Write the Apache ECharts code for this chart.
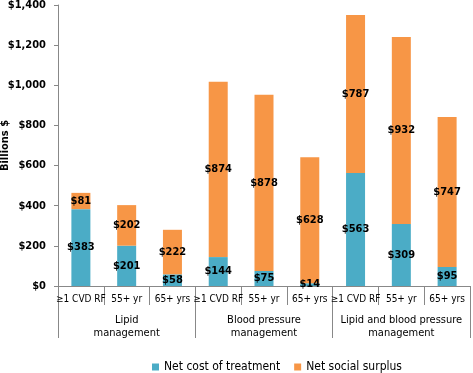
<!DOCTYPE html>
<html><head><meta charset="utf-8">
<script src="https://cdn.jsdelivr.net/npm/echarts@6/dist/echarts.min.js"></script>
<style>html,body{margin:0;padding:0;background:#fff}#c{width:473px;height:373px}</style>
</head><body><div id="c"></div>
<script>
const categories = ["≥1 CVD RF","55+ yr","65+ yrs","≥1 CVD RF","55+ yr","65+ yrs","≥1 CVD RF","55+ yr","65+ yrs"];
const groups = ["Lipid\nmanagement","Blood pressure\nmanagement","Lipid and blood pressure\nmanagement"];
const netCost = [383,201,58,144,75,14,563,309,95];
const netSurplus = [81,202,222,874,878,628,787,932,747];
const seriesNames = ["Net cost of treatment","Net social surplus"];

const FONT = '"DejaVu Sans Condensed","Liberation Sans",sans-serif';
const chart = echarts.init(document.getElementById('c'));
const lbl = {show:true, position:'inside', color:'#000', fontWeight:'bold', fontSize:11, fontFamily:FONT,
  formatter: p => '$' + p.value};
chart.setOption({
  animation:false,
  textStyle:{fontFamily:FONT},
  grid:{left:58, right:3, top:5, bottom:87, containLabel:false, outerBoundsMode:'none'},
  legend:{left:147, top:356, itemWidth:7, itemHeight:7, itemGap:14, icon:'rect',
    textStyle:{fontSize:12, color:'#000', fontFamily:FONT}, data:seriesNames},
  xAxis:[
    {type:'category', data:categories, position:'bottom',
     axisLine:{lineStyle:{color:'#888'}},
     axisTick:{show:true, interval:0, length:19, lineStyle:{color:'#888'}},
     axisLabel:{color:'#000', fontSize:10, margin:8, interval:0, fontFamily:FONT}},
    {type:'category', data:groups, position:'bottom', offset:0,
     axisLine:{show:false},
     axisTick:{show:true, interval:0, length:52, lineStyle:{color:'#888'}},
     axisLabel:{color:'#000', fontSize:11, margin:28, lineHeight:13, interval:0, fontFamily:FONT}}
  ],
  yAxis:{type:'value', min:0, max:1400, interval:200,
    name:'Billions $', nameLocation:'middle', nameGap:47, nameRotate:90, nameMoveOverlap:false,
    nameTextStyle:{color:'#000', fontWeight:'bold', fontSize:11, fontFamily:FONT},
    axisLine:{show:true, lineStyle:{color:'#888'}},
    axisTick:{show:true, length:4, lineStyle:{color:'#888'}},
    splitLine:{show:false},
    axisLabel:{color:'#000', fontWeight:'bold', fontSize:11, margin:12, fontFamily:FONT,
      formatter: v => '$' + v.toLocaleString('en-US')}},
  series:[
    {name:seriesNames[0], type:'bar', stack:'s', data:netCost, barWidth:19,
     itemStyle:{color:'#4BACC6'}, label:lbl},
    {name:seriesNames[1], type:'bar', stack:'s', data:netSurplus, barWidth:19,
     itemStyle:{color:'#F79646'}, label:lbl}
  ]
});
</script></body></html>
